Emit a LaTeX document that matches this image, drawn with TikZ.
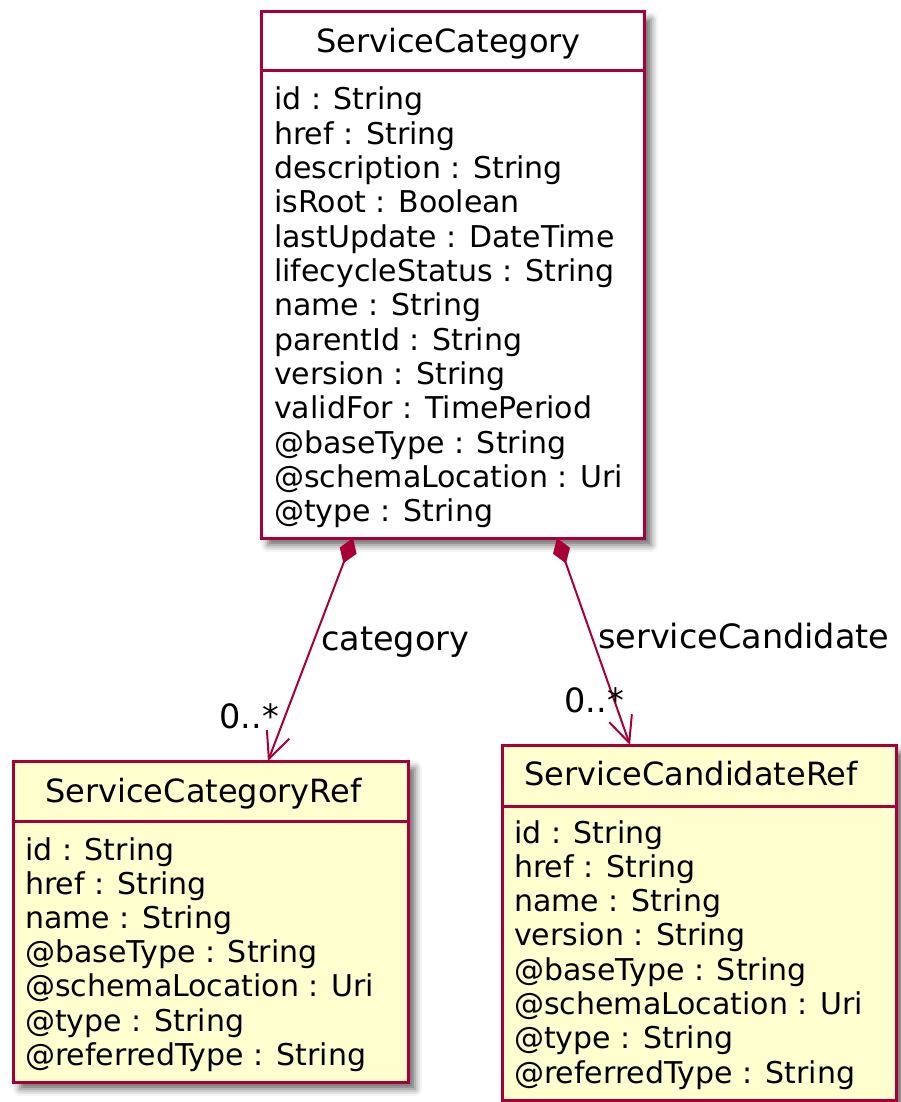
\documentclass[tikz,border=0pt]{standalone}
\usepackage{fontspec}
\setmainfont{DejaVu Sans}
\usetikzlibrary{positioning,arrows.meta,shadows.blur}
\definecolor{umlborder}{HTML}{A80036}
\definecolor{umlfill}{HTML}{FEFECE}

\tikzset{%
  % Specifications for style of nodes:
         classbox/.style = {rectangle, draw = umlborder, line width=3pt, fill=umlfill, inner sep=0pt, outer sep=0pt, anchor=north west,
                            blur shadow={shadow xshift=7pt, shadow yshift=-7pt, shadow blur radius=7pt, shadow opacity=60}},
         classname/.style = {inner sep=0pt, anchor=base, font=\fontsize{32}{38}\selectfont},
         attr/.style = {inner sep=0pt, anchor=base west, font=\fontsize{30}{34}\selectfont},
         role/.style = {inner sep=0pt, font=\fontsize{33.5}{40}\selectfont},
         link/.style = {draw=umlborder, line width=2pt, {Diamond[length=27pt,width=18pt]}-{Straight Barb[length=26pt,width=24pt]}},
}

\begin{document}
\begin{tikzpicture}[x=1pt, y=1pt]
    \useasboundingbox (0,0) rectangle (901,-1102);

    % Draw nodes
    \node (cat)      [classbox, fill=white, minimum width=383, minimum height=526] at (261,-12)  {};
    \node (catref)   [classbox, minimum width=395, minimum height=321]             at (13,-761)  {};
    \node (candref)  [classbox, minimum width=394, minimum height=355]             at (502,-745) {};

    \draw[umlborder, line width=3pt] ([yshift=-59]cat.north west) -- ([yshift=-59]cat.north east);
    \draw[umlborder, line width=3pt] ([yshift=-60]catref.north west) -- ([yshift=-60]catref.north east);
    \draw[umlborder, line width=3pt] ([yshift=-61]candref.north west) -- ([yshift=-61]candref.north east);

    \node (catname)     [classname] at (448.5,-53) {ServiceCategory};
    \node (catrefname)  [classname] at (203.5,-802) {ServiceCategoryRef};
    \node (candrefname) [classname] at (691,-785) {ServiceCandidateRef};

    \foreach \a [count=\i from 0] in {id : String, href : String, description : String, isRoot : Boolean,
        lastUpdate : DateTime, lifecycleStatus : String, name : String, parentId : String, version : String,
        validFor : TimePeriod, @baseType : String, @schemaLocation : Uri, @type : String}
        \node (cat-a\i) [attr] at (274,-110-34.3*\i) {\a};

    \foreach \a [count=\i from 0] in {id : String, href : String, name : String, @baseType : String,
        @schemaLocation : Uri, @type : String, @referredType : String}
        \node (catref-a\i) [attr] at (25,-860-34.2*\i) {\a};

    \foreach \a [count=\i from 0] in {id : String, href : String, name : String, version : String,
        @baseType : String, @schemaLocation : Uri, @type : String, @referredType : String}
        \node (candref-a\i) [attr] at (514,-843-34.3*\i) {\a};

    % Draw arrows
    \draw[link]  ([xshift=-99.5]cat.south) -- ([xshift=57.5]catref.north);
    \draw[link]  ([xshift=104.5]cat.south) -- ([xshift=-69]candref.north);

    \node (catrole)   [role, anchor=base west] at (321,-650) {category};
    \node (catmult)   [role, anchor=base east] at (279,-728) {0..*};
    \node (candrole)  [role, anchor=base west] at (598,-648) {serviceCandidate};
    \node (candmult)  [role, anchor=base east] at (624,-712) {0..*};
\end{tikzpicture}
\end{document}
